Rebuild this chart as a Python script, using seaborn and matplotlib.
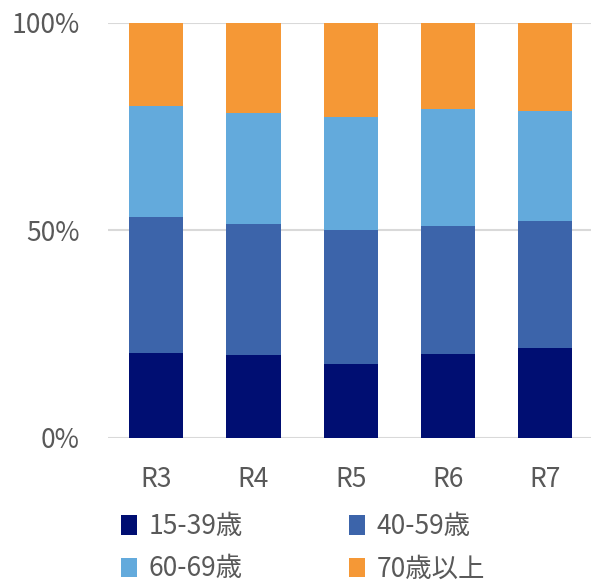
import matplotlib
matplotlib.use("Agg")
import matplotlib.pyplot as plt
import seaborn as sns
import pandas as pd
import numpy as np
from matplotlib.patches import Patch

years = ["R3", "R4", "R5", "R6", "R7"]
age_groups = ["15-39歳", "40-59歳", "60-69歳", "70歳以上"]
v_15_39 = [20.5, 19.9, 17.7, 20.3, 21.7]
v_40_59 = [32.8, 31.7, 32.3, 30.7, 30.5]
v_60_69 = [26.6, 26.6, 27.2, 28.1, 26.6]
v_70_up = [20.1, 21.8, 22.8, 20.9, 21.2]
colors = ["#000E72", "#3C64AA", "#63AADC", "#F59836"]
y_ticks = [0, 50, 100]
y_tick_labels = ["0%", "50%", "100%"]

sns.set_theme(style="white")
plt.rcParams['font.family'] = ['Noto Sans CJK JP', 'DejaVu Sans']

series = [v_15_39, v_40_59, v_60_69, v_70_up]
df = pd.DataFrame({"year": years})
cum = np.zeros(len(years))
for name, vals in zip(age_groups, series):
    cum = cum + np.array(vals)
    df[name] = cum.copy()

W, H = 591, 585
fig = plt.figure(figsize=(W / 100, H / 100), dpi=100)
ax = fig.add_axes([107.5 / W, (H - 437.9) / H, (W - 107.5) / W, (437.9 - 22.7) / H])

# draw stacked bars: top-most cumulative first
for name, col in reversed(list(zip(age_groups, colors))):
    sns.barplot(data=df, x="year", y=name, color=col, width=0.557,
                ax=ax, saturation=1, edgecolor="none", linewidth=0)

ax.set_ylim(0, 100)
ax.set_xlim(-0.5, 4.47)
ax.set_yticks(y_ticks)
ax.set_yticklabels(y_tick_labels)
ax.set_xlabel("")
ax.set_ylabel("")
for s in ax.spines.values():
    s.set_visible(False)
ax.set_axisbelow(True)
ax.yaxis.grid(True, color="#D9D9D9", linewidth=1.5)
ax.tick_params(axis="both", length=0, labelsize=19, colors="#595959")
ax.tick_params(axis="y", pad=20)
ax.tick_params(axis="x", pad=20)

order = [0, 2, 1, 3]
handles = [Patch(facecolor=colors[i], edgecolor="none", label=age_groups[i]) for i in order]
fig.legend(handles=handles, ncol=2, loc="upper left",
           bbox_to_anchor=(108 / W, 1 - 500 / H), frameon=False,
           fontsize=19, labelcolor="#595959", handlelength=0.6, handleheight=0.75,
           handletextpad=0.45, columnspacing=4.0, labelspacing=0.58, borderpad=0)

fig.savefig("out.png", dpi=100)
